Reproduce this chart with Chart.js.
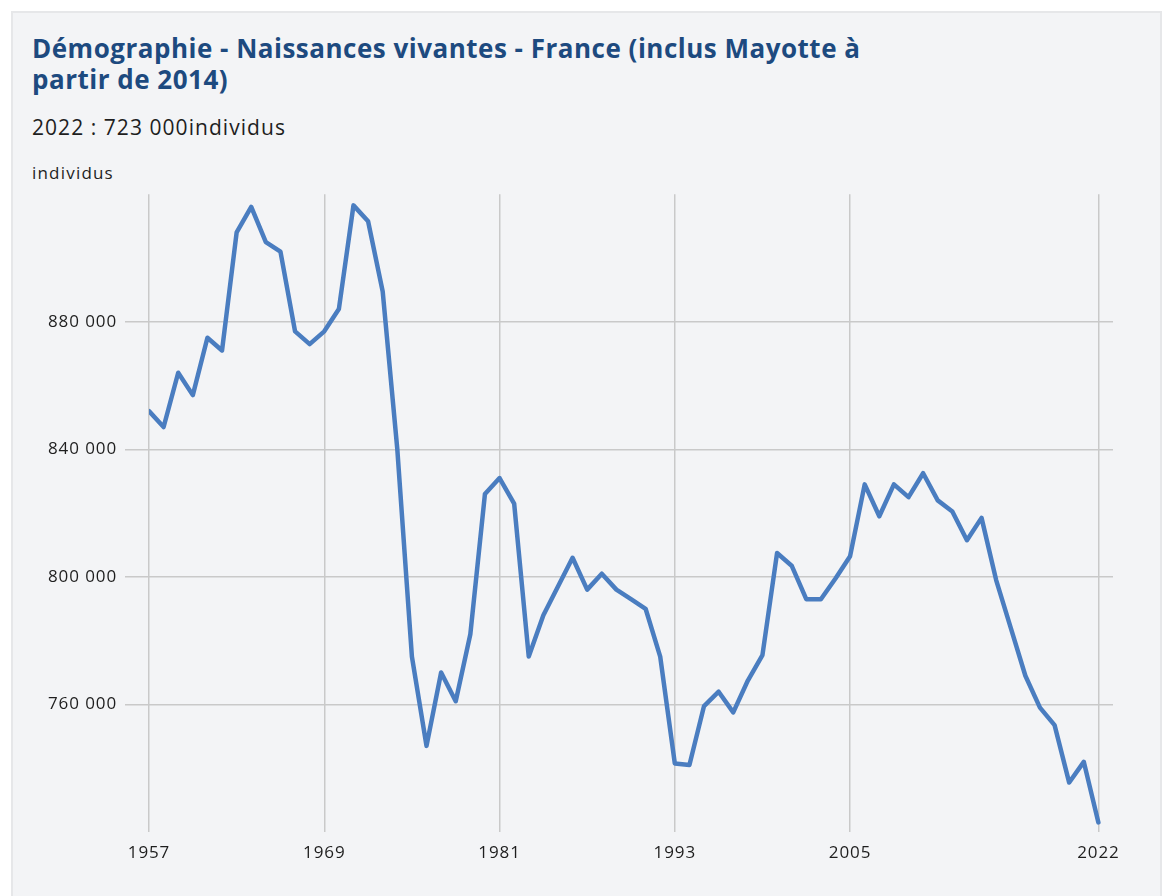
<!DOCTYPE html>
<html lang="fr">
<head>
<meta charset="utf-8">
<script src="https://cdn.jsdelivr.net/npm/chart.js@4/dist/chart.umd.min.js"></script>
<style>
  html, body { margin:0; padding:0; background:#ffffff; }
  body { width:1166px; height:896px; position:relative; overflow:hidden; font-family:"Open Sans", "Noto Sans", sans-serif; }
  #card { position:absolute; left:11px; top:11px; width:1151px; height:900px; background:#f3f4f6; border:2px solid #e6e7e9; box-sizing:border-box; }
  #title { position:absolute; left:32px; top:33px; width:1000px; font-size:26px; line-height:31px; font-weight:700; color:#1d4a7f; letter-spacing:0.5px; }
  #subtitle { position:absolute; left:32px; top:113px; font-size:21px; line-height:28px; color:#1e1e1e; letter-spacing:1.05px; }
  #ytitle { position:absolute; left:32px; top:162px; font-size:17px; line-height:22px; color:#1e1e1e; letter-spacing:1.2px; }
  #wrap { position:absolute; left:0; top:176px; width:1166px; height:720px; }
</style>
</head>
<body>
<div id="card"></div>
<div id="title">Démographie - Naissances vivantes - France (inclus Mayotte à<br>partir de 2014)</div>
<div id="subtitle">2022 : 723 000individus</div>
<div id="ytitle">individus</div>
<div id="wrap"><canvas id="c" width="1166" height="720"></canvas></div>
<script>
const years = [1957,1958,1959,1960,1961,1962,1963,1964,1965,1966,1967,1968,1969,1970,1971,1972,1973,1974,1975,1976,1977,1978,1979,1980,1981,1982,1983,1984,1985,1986,1987,1988,1989,1990,1991,1992,1993,1994,1995,1996,1997,1998,1999,2000,2001,2002,2003,2004,2005,2006,2007,2008,2009,2010,2011,2012,2013,2014,2015,2016,2017,2018,2019,2020,2021,2022];
const births = [852000,847000,864000,857000,875000,871000,908000,916000,905000,902000,877000,873000,877000,884000,916500,911500,889500,840000,775000,747000,770000,761000,782000,826000,831000,823000,775000,788000,797000,806000,796000,801000,796000,793000,790000,775000,741500,741000,759500,764000,757500,767500,775500,807500,803500,793000,793000,799500,806500,829000,819000,829000,825000,832500,824000,820500,811500,818500,799000,784000,769000,759000,753500,735500,742000,723000];
const xTickYears = [1957,1969,1981,1993,2005,2022];
const yTickValues = [760000,800000,840000,880000];

function fmt(v){ return String(Math.round(v)).replace(/\B(?=(\d{3})+(?!\d))/g, ' '); }

const points = years.map((y,i)=>({x:y, y:births[i]}));

const spacing = { id:'spacing', beforeInit(chart){ chart.ctx.letterSpacing = '0.9px'; }, beforeDraw(chart){ chart.ctx.letterSpacing = '0.9px'; } };

new Chart(document.getElementById('c'), {
  type:'line',
  data:{ datasets:[{ data:points, borderColor:'#4a7dc0', borderWidth:4.5, pointRadius:0, pointHoverRadius:0, tension:0, fill:false, borderJoinStyle:'round', borderCapStyle:'round' }]},
  plugins:[spacing],
  options:{
    responsive:false, animation:false, maintainAspectRatio:false,
    layout:{ padding:{ left:0, right:53, top:8, bottom:24 } },
    plugins:{ legend:{display:false}, tooltip:{enabled:false}, title:{display:false} },
    scales:{
      x:{ type:'linear', min:1957, max:2023,
        afterBuildTicks:(s)=>{ s.ticks = xTickYears.map(v=>({value:v})); },
        afterFit:(s)=>{ s.height = 40; },
        border:{display:false},
        grid:{ color:'#c9c9c9', lineWidth:1.5, drawTicks:false },
        ticks:{ autoSkip:false, maxRotation:0, padding:11, color:'#1e1e1e', font:{family:'"Open Sans"', size:17}, callback:(v)=>String(v) }
      },
      y:{ type:'linear', min:720000, max:920000,
        afterBuildTicks:(s)=>{ s.ticks = yTickValues.map(v=>({value:v})); },
        afterFit:(s)=>{ s.width = 149; },
        border:{display:false},
        grid:{ color:'#c9c9c9', lineWidth:1.5, drawTicks:true, tickLength:24 },
        ticks:{ padding:8, color:'#1e1e1e', font:{family:'"Open Sans"', size:17}, callback:(v)=>fmt(v) }
      }
    }
  }
});
</script>
</body>
</html>
